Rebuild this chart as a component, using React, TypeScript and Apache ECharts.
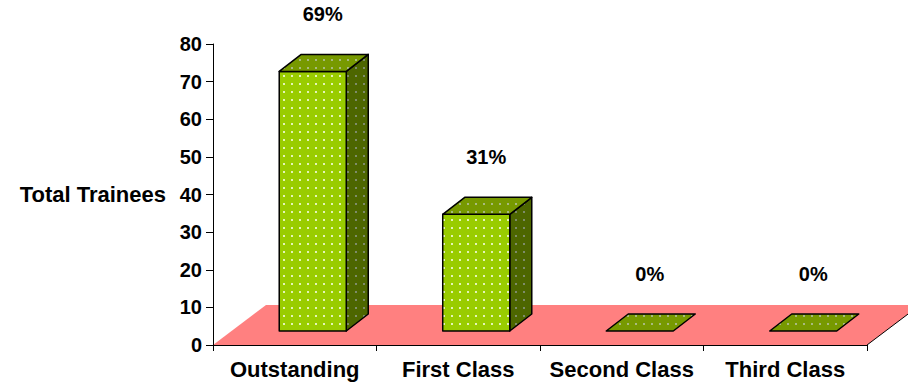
import React, { useEffect, useRef } from "react";
import * as echarts from "echarts";

// Grading result of the trainees
const categories = ["Outstanding", "First Class", "Second Class", "Third Class"];
const trainees = [69, 31, 0, 0];
const axisMin = 0;
const axisMax = 80;
const axisStep = 10;

const FONT = '"Liberation Sans", Arial, sans-serif';

// 3D look: floor depth and bar depth (screen offsets)
const FLOOR_DX = 53;
const FLOOR_DY = 40;
const BAR_SHIFT_X = 18;
const BAR_SHIFT_Y = 14;
const BAR_DX = 22;
const BAR_DY = 17;
const BAR_WIDTH_RATIO = 0.41;

function dotPattern(bg: string, dot: string) {
  const c = document.createElement("canvas");
  c.width = 8;
  c.height = 8;
  const ctx = c.getContext("2d")!;
  ctx.fillStyle = bg;
  ctx.fillRect(0, 0, 8, 8);
  ctx.fillStyle = dot;
  ctx.fillRect(3, 3, 2, 2);
  return {
    type: "pattern",
    image: c.toDataURL(),
    repeat: "repeat",
    imageWidth: 8,
    imageHeight: 8,
  } as any;
}

export default function App() {
  const ref = useRef<HTMLDivElement>(null);

  useEffect(() => {
    if (!ref.current) return;
    const chart = echarts.init(ref.current, null, { renderer: "svg" });

    const total = trainees.reduce((a, b) => a + b, 0);
    const frontFill = dotPattern("#99CC00", "#E4F4B8");
    const topFill = dotPattern("#779900", "#A8BA80");
    const sideFill = dotPattern("#4D6600", "#7E8C6A");

    const barData = trainees.map((v, i) => [i, v]);

    chart.setOption({
      animation: false,
      grid: { left: 213, right: 41, top: 44, bottom: 40, containLabel: false },
      xAxis: {
        type: "category",
        data: categories,
        z: 5,
        axisLine: { show: true, lineStyle: { color: "#000", width: 1 } },
        axisTick: { show: true, length: 6, lineStyle: { color: "#000" } },
        axisLabel: {
          interval: 0,
          margin: 13,
          color: "#000",
          fontFamily: FONT,
          fontWeight: "bold",
          fontSize: 22,
        },
      },
      yAxis: {
        type: "value",
        min: axisMin,
        max: axisMax,
        interval: axisStep,
        z: 5,
        name: "Total Trainees",
        nameLocation: "middle",
        nameRotate: 0,
        nameGap: 47,
        nameTextStyle: {
          color: "#000",
          fontFamily: FONT,
          fontWeight: "bold",
          fontSize: 22,
          align: "right",
        },
        axisLine: { show: true, lineStyle: { color: "#000", width: 1 } },
        axisTick: { show: true, length: 7, lineStyle: { color: "#000" } },
        splitLine: { show: false },
        axisLabel: {
          margin: 11,
          color: "#000",
          fontFamily: FONT,
          fontWeight: "bold",
          fontSize: 20,
        },
      },
      series: [
        {
          // pink floor of the 3D plot area
          type: "custom",
          z: 1,
          silent: true,
          data: [[0, 0]],
          encode: { x: 0, y: 1 },
          renderItem: (params: any) => {
            const cs = params.coordSys;
            const x0 = cs.x;
            const x1 = cs.x + cs.width;
            const yb = cs.y + cs.height;
            return {
              type: "group",
              children: [
                {
                  type: "polygon",
                  shape: {
                    points: [
                      [x0, yb],
                      [x1, yb],
                      [x1 + FLOOR_DX, yb - FLOOR_DY],
                      [x0 + FLOOR_DX, yb - FLOOR_DY],
                    ],
                  },
                  style: { fill: "#FF8080", stroke: null },
                },
                {
                  type: "line",
                  shape: { x1: x1, y1: yb, x2: x1 + FLOOR_DX, y2: yb - FLOOR_DY },
                  style: { stroke: "#000", lineWidth: 1 },
                },
              ],
            };
          },
        },
        {
          // 3D columns with percentage labels
          type: "custom",
          z: 4,
          data: barData,
          encode: { x: 0, y: 1 },
          renderItem: (params: any, api: any) => {
            const idx = api.value(0);
            const v = api.value(1);
            const base = api.coord([idx, 0]);
            const top = api.coord([idx, v]);
            const band = api.size([1, 0])[0];
            const w = band * BAR_WIDTH_RATIO;
            const x0 = base[0] - w / 2 + BAR_SHIFT_X;
            const x1 = x0 + w;
            const yb = base[1] - BAR_SHIFT_Y;
            const yt = top[1] - BAR_SHIFT_Y;
            const edge = { stroke: "#000", lineWidth: 1.5, lineJoin: "round" };
            const children: any[] = [];
            if (yb - yt > 0.5) {
              children.push({
                type: "polygon",
                shape: {
                  points: [
                    [x1, yt],
                    [x1 + BAR_DX, yt - BAR_DY],
                    [x1 + BAR_DX, yb - BAR_DY],
                    [x1, yb],
                  ],
                },
                style: { fill: sideFill, ...edge },
              });
              children.push({
                type: "rect",
                shape: { x: x0, y: yt, width: w, height: yb - yt },
                style: { fill: frontFill, ...edge },
              });
            }
            children.push({
              type: "polygon",
              shape: {
                points: [
                  [x0, yt],
                  [x0 + BAR_DX, yt - BAR_DY],
                  [x1 + BAR_DX, yt - BAR_DY],
                  [x1, yt],
                ],
              },
              style: { fill: topFill, ...edge },
            });
            const pct = total ? Math.round((v / total) * 100) : 0;
            children.push({
              type: "text",
              x: (x0 + x1) / 2 + 10,
              y: yt - 57,
              style: {
                text: pct + "%",
                fill: "#000",
                font: `bold 20px ${FONT}`,
                align: "center",
                verticalAlign: "middle",
              },
            });
            return { type: "group", children };
          },
        },
      ],
    });

    return () => chart.dispose();
  }, []);

  return (
    <div
      ref={ref}
      style={{ position: "fixed", left: 0, top: 0, width: 908, height: 385, background: "#fff" }}
    />
  );
}
